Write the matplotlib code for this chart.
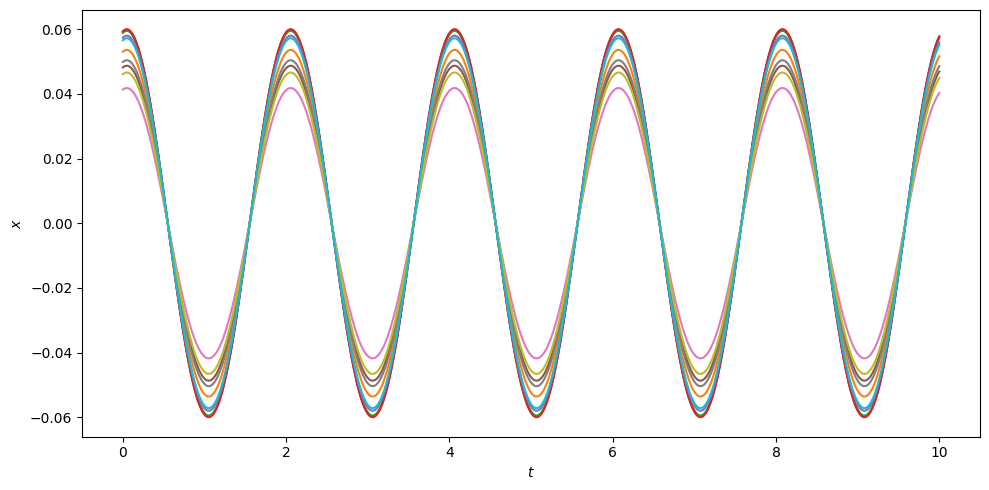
import numpy as np
import matplotlib
matplotlib.use("Agg")
import matplotlib.pyplot as plt

amplitudes = [0.0598, 0.0536, 0.0595, 0.0600, 0.0580, 0.0487, 0.0418, 0.0504, 0.0466, 0.0572]
period = 2.008
peak_time = 0.047

t = np.linspace(0, 10, 1000)
omega = 2 * np.pi / period

fig, ax = plt.subplots(figsize=(9.89, 4.9), dpi=100)

for A in amplitudes:
    x = A * np.cos(omega * (t - peak_time))
    ax.plot(t, x)

ax.set_xlabel('$t$')
ax.set_ylabel('$x$')

fig.subplots_adjust(left=0.083, right=0.991, top=0.980, bottom=0.109)
plt.savefig('out.png', dpi=100)
